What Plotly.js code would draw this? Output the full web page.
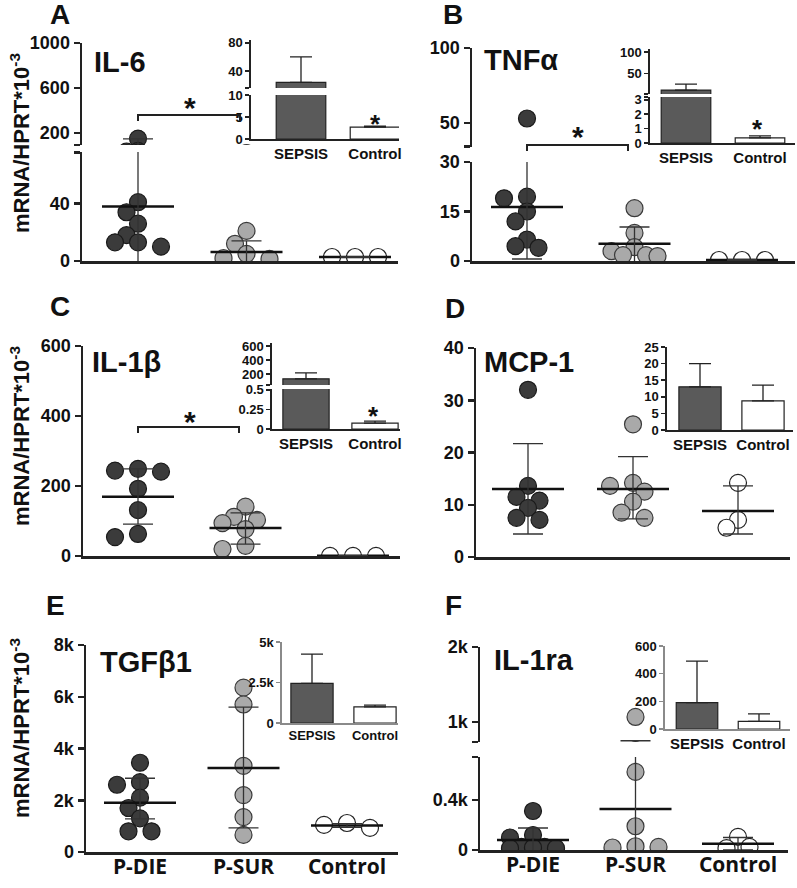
<!DOCTYPE html>
<html>
<head>
<meta charset="utf-8">
<script src="https://cdn.plot.ly/plotly-3.0.1.min.js"></script>
<style>body{margin:0;background:#fff}</style>
</head>
<body>
<div id="chart" style="width:797px;height:888px"></div>
<script>
// groups
const groups = ["P-DIE", "P-SUR", "Control"];
const insetGroups = ["SEPSIS", "Control"];

// A - IL-6
const il6Die = [150, 41, 34, 26, 18, 13, 13, 10];
const il6Sur = [21, 12, 5, 2, 1.5];
const il6Ctl = [2.8, 2.8, 2.8];
const il6Mean = [38, 6.3, 2.8];
const il6ErrTop = [148, 14, 3.0];
const il6ErrBottom = [-80, -2, 2.6];
const il6InsetMean = [24, 2.7];
const il6InsetTop = [60, 2.9];

// B - TNFa
const tnfDie = [53, 19.5, 19, 15, 12, 6.5, 4.5, 4];
const tnfSur = [16, 8.5, 4.2, 3, 1.8, 1.8, 1.5];
const tnfCtl = [0.3, 0.3, 0.3];
const tnfMean = [16.4, 5.2, 0.3];
const tnfErrTop = [33, 10.3, 0.5];
const tnfErrBottom = [0.6, -1, 0.1];
const tnfInsetMean = [12, 0.35];
const tnfInsetTop = [26, 0.5];

// C - IL-1b
const il1bDie = [249, 244, 241, 192, 131, 63, 54];
const il1bSur = [141, 112, 103, 94, 77, 29, 20];
const il1bCtl = [0.5, 0.5, 0.5];
const il1bMean = [169, 80, 0.5];
const il1bErrTop = [249, 123, 1];
const il1bErrBottom = [91, 34, 0];
const il1bInsetMean = [131, 0.075];
const il1bInsetTop = [215, 0.1];

// D - MCP-1
const mcpDie = [32, 13.6, 11.5, 10.8, 9.4, 7.5, 7.1];
const mcpSur = [25.4, 14.2, 13.6, 12.5, 10.6, 8.5, 7.5];
const mcpCtl = [14.2, 7.1, 5.6];
const mcpMean = [13, 13, 8.8];
const mcpErrTop = [21.7, 19.2, 13.6];
const mcpErrBottom = [4.4, 7.3, 4.4];
const mcpInsetMean = [13, 8.8];
const mcpInsetTop = [20, 13.5];

// E - TGFb1
const tgfDie = [3450, 2700, 2600, 2100, 1700, 1300, 800, 800];
const tgfSur = [6350, 5700, 3330, 2200, 1350, 660];
const tgfCtl = [1120, 1050, 930];
const tgfMean = [1900, 3250, 1020];
const tgfErrTop = [2850, 5600, 1100];
const tgfErrBottom = [1280, 930, 950];
const tgfInsetMean = [2450, 1000];
const tgfInsetTop = [4250, 1100];

// F - IL-1ra
const il1raDie = [312, 120, 100, 25, 25, 20, 15, 15];
const il1raSur = [1067, 625, 190, 30, 20, 25];
const il1raCtl = [105, 15, 25];
const il1raMean = [80, 328, 50];
const il1raErrTop = [176, 750, 100];
const il1raErrBottom = [-20, -100, 0];
const il1raInsetMean = [190, 55];
const il1raInsetTop = [490, 110];

const fx = px => px / 797;
const fy = py => 1 - py / 888;

const dotFill = ["#3b3b3b", "#a9a9a9", "#ffffff"];
const dotLine = ["#1a1a1a", "#3a3a3a", "#222222"];

const panels = [
  {letter: "A", name: "IL-6", pts: [il6Die, il6Sur, il6Ctl], mean: il6Mean, top: il6ErrTop, bot: il6ErrBottom,
   insMean: il6InsetMean, insTop: il6InsetTop,
   box: {left: 82, right: 398, c0: 138, sp: 108.5},
   segs: [{bot: 261, top: 152, range: [0, 76], tv: [0, 40, 75.6], tt: ["0", "40", ""]},
          {bot: 145, top: 43, range: [93, 1000], tv: [93.5, 200, 600, 1000], tt: ["", "200", "600", "1000"]}],
   ins: {left: 251, right: 399, c0: 301, sp: 74,
         segs: [{bot: 139, top: 95, range: [0, 10], tv: [0, 5, 10], tt: ["0", "5", "10"]},
                {bot: 88, top: 40, range: [16, 84], tv: [16.3, 40, 80], tt: ["", "40", "80"]}]},
   lp: [60, 15], np: [92, 62], ytitle: 143,
   bracket: [138, 240, 115], star: [190, 100], insStar: [375, 117]},
  {letter: "B", name: "TNFα", pts: [tnfDie, tnfSur, tnfCtl], mean: tnfMean, top: tnfErrTop, bot: tnfErrBottom,
   insMean: tnfInsetMean, insTop: tnfInsetTop,
   box: {left: 472, right: 795, c0: 527, sp: 107.5},
   segs: [{bot: 261, top: 162, range: [0, 30], tv: [0, 15, 30], tt: ["0", "15", "30"]},
          {bot: 147, top: 48, range: [34, 100], tv: [34.4, 50, 100], tt: ["", "50", "100"]}],
   ins: {left: 650, right: 795, c0: 686, sp: 74,
         segs: [{bot: 143, top: 97, range: [0, 3.2], tv: [0, 1, 2, 3, 3.19], tt: ["0", "1", "2", "3", ""]},
                {bot: 94, top: 49.4, range: [3, 106], tv: [3.5, 50, 100], tt: ["", "50", "100"]}]},
   lp: [453, 15], np: [482, 60],
   bracket: [527, 628, 145], star: [578, 128], insStar: [757, 122]},
  {letter: "C", name: "IL-1β", pts: [il1bDie, il1bSur, il1bCtl], mean: il1bMean, top: il1bErrTop, bot: il1bErrBottom,
   insMean: il1bInsetMean, insTop: il1bInsetTop,
   box: {left: 83, right: 400, c0: 138, sp: 107.5},
   segs: [{bot: 556, top: 346, range: [0, 600], tv: [0, 200, 400, 600], tt: ["0", "200", "400", "600"]}],
   ins: {left: 272, right: 400, c0: 306, sp: 69,
         segs: [{bot: 429, top: 389, range: [0, 0.51], tv: [0, 0.25, 0.5], tt: ["0", "0.25", "0.5"]},
                {bot: 385, top: 343, range: [43, 643], tv: [44, 200, 400, 600], tt: ["", "200", "400", "600"]}]},
   lp: [60, 307], np: [90, 362], ytitle: 436,
   bracket: [138, 239, 427], star: [190, 414], insStar: [373, 409]},
  {letter: "D", name: "MCP-1", pts: [mcpDie, mcpSur, mcpCtl], mean: mcpMean, top: mcpErrTop, bot: mcpErrBottom,
   insMean: mcpInsetMean, insTop: mcpInsetTop,
   box: {left: 476, right: 790, c0: 528, sp: 105},
   segs: [{bot: 557, top: 348, range: [0, 40], tv: [0, 10, 20, 30, 40], tt: ["0", "10", "20", "30", "40"]}],
   ins: {left: 667, right: 793, c0: 700, sp: 63,
         segs: [{bot: 430, top: 347, range: [0, 25], tv: [0, 5, 10, 15, 20, 25], tt: ["0", "5", "10", "15", "20", "25"]}]},
   lp: [455, 308], np: [482, 362]},
  {letter: "E", name: "TGFβ1", pts: [tgfDie, tgfSur, tgfCtl], mean: tgfMean, top: tgfErrTop, bot: tgfErrBottom,
   insMean: tgfInsetMean, insTop: tgfInsetTop,
   box: {left: 86, right: 398, c0: 140, sp: 103.5},
   segs: [{bot: 852, top: 645, range: [0, 8000], tv: [0, 2000, 4000, 6000, 8000], tt: ["0", "2k", "4k", "6k", "8k"]}],
   ins: {left: 282, right: 398, c0: 312, sp: 63, color: "#8a8a8a", labelSize: 13,
         segs: [{bot: 723, top: 642, range: [0, 5000], tv: [0, 2500, 5000], tt: ["0", "2.5k", "5k"]}]},
   lp: [55, 605], np: [98, 662], ytitle: 728, xlabels: true},
  {letter: "F", name: "IL-1ra", pts: [il1raDie, il1raSur, il1raCtl], mean: il1raMean, top: il1raErrTop, bot: il1raErrBottom,
   insMean: il1raInsetMean, insTop: il1raInsetTop,
   box: {left: 480, right: 788, c0: 533, sp: 102.5},
   segs: [{bot: 850, top: 757, range: [0, 744], tv: [0, 400, 743], tt: ["0", "0.4k", ""]},
          {bot: 742, top: 647, range: [733, 2000], tv: [734, 1000, 2000], tt: ["", "1k", "2k"]}],
   ins: {left: 665, right: 790, c0: 697, sp: 62, color: "#8a8a8a",
         segs: [{bot: 729, top: 646, range: [0, 600], tv: [0, 200, 400, 600], tt: ["0", "200", "400", "600"]}]},
   lp: [453, 605], np: [492, 660], xlabels: true}
];

const layout = {
  width: 797, height: 888,
  margin: {l: 0, r: 0, t: 0, b: 0},
  paper_bgcolor: "#fff", plot_bgcolor: "rgba(0,0,0,0)",
  showlegend: false,
  font: {family: "Liberation Sans, Arial, sans-serif", color: "#111"},
  annotations: [], shapes: []
};
const traces = [];

let nx = 0, ny = 0;
function addAxis(letter, spec) {
  const n = letter === "x" ? ++nx : ++ny;
  const suffix = n === 1 ? "" : String(n);
  layout[letter + "axis" + suffix] = spec;
  return letter + suffix;
}
const axKey = id => id[0] + "axis" + id.slice(1);

// segment lookup in pixels (handles broken axes)
function valueToPx(segs, v) {
  let best = segs[0];
  for (const s of segs) {
    if (v >= s.range[0] && v <= s.range[1]) { best = s; break; }
    if (v > s.range[1]) best = s;
  }
  const t = (v - best.range[0]) / (best.range[1] - best.range[0]);
  return best.bot - t * (best.bot - best.top);
}

// small beeswarm, at most two steps each side (dots may overlap a bit like the original)
function swarm(vals, segs, step, minD) {
  const placed = [];
  const cands = [0, -step, step, -2 * step, 2 * step];
  return vals.map(v => {
    const y = valueToPx(segs, v);
    let pick = null, bestD = -1, bestX = 0;
    for (const dx of cands) {
      const d = placed.length ? Math.min(...placed.map(p => Math.hypot(p.x - dx, p.y - y))) : Infinity;
      if (d >= minD) { pick = dx; break; }
      if (d > bestD) { bestD = d; bestX = dx; }
    }
    if (pick === null) pick = bestX;
    placed.push({x: pick, y});
    return pick;
  });
}

function yAxisSpec(s, xId, color, width, size, ticklen) {
  return {
    domain: [fy(s.bot), fy(s.top)], range: s.range, anchor: xId,
    showline: true, linewidth: width, linecolor: color,
    ticks: "outside", ticklen: ticklen, tickwidth: width, tickcolor: color,
    tickmode: "array", tickvals: s.tv, ticktext: s.tt,
    tickfont: {size: size, weight: "bold", color: "#111"},
    showgrid: false, zeroline: false, fixedrange: true
  };
}

function note(text, x, y, size, extra) {
  layout.annotations.push(Object.assign({text: text, x: fx(x), y: fy(y), xref: "paper", yref: "paper",
    xanchor: "center", yanchor: "middle", showarrow: false, font: {size: size}}, extra || {}));
}

panels.forEach(p => {
  const b = p.box;
  const xId = addAxis("x", {
    domain: [fx(b.left), fx(b.right)],
    range: [(b.left - b.c0) / b.sp, (b.right - b.c0) / b.sp],
    showline: true, linewidth: 2.5, linecolor: "#222", ticks: "",
    tickmode: "array", tickvals: [0, 1, 2], ticktext: groups,
    showticklabels: !!p.xlabels, ticklabelstandoff: -6,
    tickfont: {family: "Open Sans", size: 21, weight: "bold", color: "#111"},
    showgrid: false, zeroline: false, fixedrange: true
  });
  const yIds = p.segs.map(s => addAxis("y", yAxisSpec(s, xId, "#222", 2.5, 18, 6)));
  layout[axKey(xId)].anchor = yIds[0];

  const offsets = p.pts.map(vals => swarm(vals, p.segs, 11.5, 13));
  const half = 36 / b.sp;

  yIds.forEach(yId => {
    p.pts.forEach((vals, g) => {
      traces.push({
        type: "scatter", mode: "markers", xaxis: xId, yaxis: yId,
        x: vals.map((v, i) => g + offsets[g][i] / b.sp), y: vals,
        marker: {size: 17, color: dotFill[g], line: {color: dotLine[g], width: 1.2}},
        hoverinfo: "y"
      });
    });
    // mean lines
    const mx = [], my = [];
    p.mean.forEach((m, g) => { mx.push(g - half, g + half, null); my.push(m, m, null); });
    traces.push({type: "scatter", mode: "lines", xaxis: xId, yaxis: yId, x: mx, y: my,
      line: {color: "#111", width: 2.5}, hoverinfo: "skip"});
    // SD bars
    traces.push({
      type: "scatter", mode: "markers", xaxis: xId, yaxis: yId,
      x: [0, 1, 2], y: p.mean, marker: {size: 1, opacity: 0},
      error_y: {type: "data", symmetric: false,
        array: p.top.map((t, g) => t - p.mean[g]),
        arrayminus: p.bot.map((d, g) => p.mean[g] - d),
        width: 15, thickness: 1.3, color: "#333"},
      hoverinfo: "skip"
    });
  });

  // inset bar chart
  const ins = p.ins;
  const icol = ins.color || "#222";
  const xi = addAxis("x", {
    domain: [fx(ins.left), fx(ins.right)],
    range: [(ins.left - ins.c0) / ins.sp, (ins.right - ins.c0) / ins.sp],
    showline: true, linewidth: 1.6, linecolor: icol, ticks: "",
    tickmode: "array", tickvals: [0, 1], ticktext: insetGroups,
    tickfont: {size: ins.labelSize || 15, weight: "bold", color: "#111"},
    showgrid: false, zeroline: false, fixedrange: true
  });
  const yis = ins.segs.map(s => addAxis("y", yAxisSpec(s, xi, icol, 1.6, 13, 4)));
  layout[axKey(xi)].anchor = yis[0];
  yis.forEach(yId => {
    traces.push({
      type: "bar", xaxis: xi, yaxis: yId, x: [0, 1], y: p.insMean, width: 0.67,
      marker: {color: ["#5a5a5a", "#ffffff"], line: {color: "#222", width: 1.2}},
      error_y: {type: "data", symmetric: false,
        array: p.insTop.map((t, i) => t - p.insMean[i]), arrayminus: [0, 0],
        width: 11, thickness: 1.3, color: "#222"},
      hoverinfo: "y"
    });
  });

  // texts
  note("<b>" + p.letter + "</b>", p.lp[0], p.lp[1], 28);
  note("<b>" + p.name + "</b>", p.np[0], p.np[1], 29, {xanchor: "left"});
  if (p.ytitle) {
    note("<b>mRNA/HPRT*10<sup>-3</sup></b>", 20, p.ytitle, 22, {textangle: -90});
  }
  if (p.bracket) {
    const [x1, x2, yb] = p.bracket;
    layout.shapes.push({type: "path", xref: "paper", yref: "paper",
      path: `M ${fx(x1)},${fy(yb + 6)} L ${fx(x1)},${fy(yb)} L ${fx(x2)},${fy(yb)} L ${fx(x2)},${fy(yb + 6)}`,
      line: {color: "#222", width: 2}});
    note("<b>*</b>", p.star[0], p.star[1] + 8, 30);
  }
  if (p.insStar) note("<b>*</b>", p.insStar[0], p.insStar[1] + 7, 26);
});

Plotly.newPlot("chart", traces, layout, {staticPlot: true});
</script>
</body>
</html>
